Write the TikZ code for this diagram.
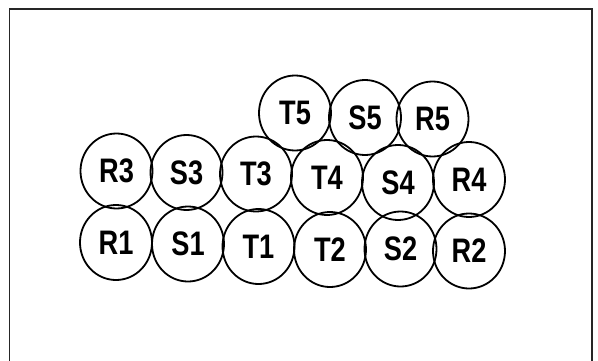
\documentclass[tikz,border=0pt]{standalone}
\usepackage{fontspec}
\setmainfont{Liberation Sans}
\usetikzlibrary{shapes.geometric}
\tikzset{
  rolle/.style={
    ellipse,
    draw=black,
    line width=1.8pt,
    minimum width=72pt,
    minimum height=75pt,
    inner sep=0pt,
    font=\fontsize{34}{34}\selectfont\bfseries
  },
  rahmen/.style={
    line width=1.4pt,
    black!85
  }
}
\newcommand{\etikett}[1]{\scalebox{0.8}[1]{#1}}

\begin{document}
\begin{tikzpicture}[x=1pt,y=-1pt]
\useasboundingbox (0,0) rectangle (598,360);
% frame, open at the bottom
\draw[rahmen] (9.5,362) -- (9.5,9) -- (592,9) -- (592,362);
% upper row
\node[rolle] (t5) at (295,113) {\etikett{T5}};
\node[rolle] (s5) at (365,117.5) {\etikett{S5}};
\node[rolle] (r5) at (432.5,119) {\etikett{R5}};
% middle row
\node[rolle] (r3) at (116.5,171) {\etikett{R3}};
\node[rolle] (s3) at (186.5,172.5) {\etikett{S3}};
\node[rolle] (t3) at (256,174) {\etikett{T3}};
\node[rolle] (t4) at (327,177.5) {\etikett{T4}};
\node[rolle] (s4) at (398,182.5) {\etikett{S4}};
\node[rolle] (r4) at (469,179.5) {\etikett{R4}};
% lower row
\node[rolle] (r1) at (116,242.5) {\etikett{R1}};
\node[rolle] (s1) at (188,244) {\etikett{S1}};
\node[rolle] (t1) at (258.5,246.5) {\etikett{T1}};
\node[rolle] (t2) at (330,249.5) {\etikett{T2}};
\node[rolle] (s2) at (400.5,249) {\etikett{S2}};
\node[rolle] (r2) at (469,251) {\etikett{R2}};
\end{tikzpicture}
\end{document}
